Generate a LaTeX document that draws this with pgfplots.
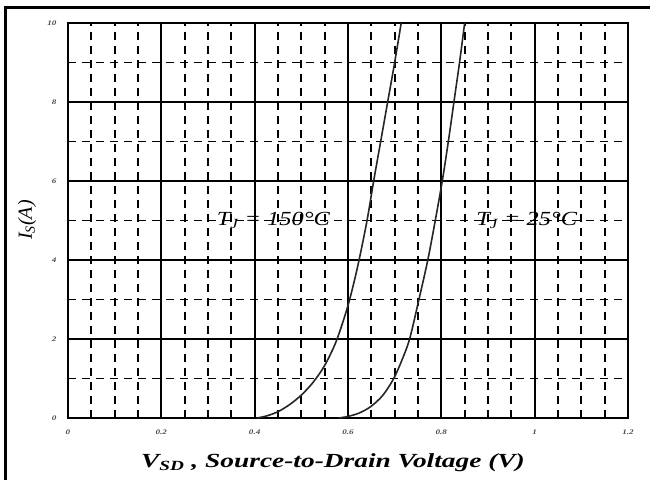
\documentclass[border=0pt]{standalone}
\usepackage{fontspec}
\setmainfont{Liberation Serif}
\usepackage{pgfplots}
\pgfplotsset{compat=1.18}
\begin{document}
\begin{tikzpicture}[x=1pt,y=1pt]
\begin{axis}[
  at={(68pt,61pt)}, anchor=south west,
  scale only axis, width=560pt, height=395pt,
  xmin=0, xmax=1.2, ymin=0, ymax=10,
  xtick={0,0.2,0.4,0.6,0.8,1,1.2}, ytick={0,2,4,6,8,10},
  minor x tick num=3, minor y tick num=1,
  grid=both,
  major grid style={black, line width=1.7pt},
  minor grid style={black, line width=1.7pt, dash pattern=on 8pt off 6pt},
  axis line style={black, line width=1.8pt},
  major tick length=0pt, minor tick length=0pt,
  /pgf/number format/assume math mode=true,
  tick label style={font=\fontsize{7}{7}\selectfont\bfseries\itshape, text=black!70},
  xticklabel={\scalebox{1.3}[1]{\pgfmathprintnumber{\tick}}},
  yticklabel={\scalebox{1.3}[1]{\pgfmathprintnumber{\tick}}},
  xticklabel style={yshift=-8pt},
  yticklabel style={xshift=-8pt},
  clip=false,
]
% T_J = 150 C
\addplot[black!85, line width=1.6pt, smooth] coordinates {
  (0.405,0) (0.425,0.05) (0.45,0.16) (0.475,0.34) (0.50,0.58) (0.525,0.9)
  (0.55,1.33) (0.575,1.95) (0.60,2.85) (0.62,3.8) (0.64,4.95) (0.655,6)
  (0.67,7) (0.685,8) (0.70,9) (0.714,10)};
% T_J = 25 C
\addplot[black!85, line width=1.6pt, smooth] coordinates {
  (0.58,0) (0.60,0.04) (0.625,0.13) (0.65,0.3) (0.675,0.58) (0.698,1.0)
  (0.715,1.45) (0.732,2) (0.752,3) (0.771,4) (0.787,5) (0.802,6) (0.815,7)
  (0.827,8) (0.839,9) (0.85,10)};
\node[font=\fontsize{20}{20}\selectfont\itshape] at (axis cs:0.44,5) {\scalebox{1.22}[1]{T\textsubscript{J} = 150°C}};
\node[font=\fontsize{20}{20}\selectfont\itshape] at (axis cs:0.983,5) {\scalebox{1.22}[1]{T\textsubscript{J} = 25°C}};
\end{axis}
\node[rotate=90, font=\fontsize{20}{20}\selectfont\itshape] at (27,259) {I\textsubscript{S}(A)};
\node[font=\fontsize{20}{20}\selectfont\bfseries\itshape] at (333,16) {\scalebox{1.37}[1]{V\textsubscript{SD} , Source-to-Drain Voltage (V)}};
\draw[line width=3pt] (5,-5) -- (5,471) -- (655,471);
\pgfresetboundingbox
\useasboundingbox (0,0) rectangle (650,479);
\end{tikzpicture}
\end{document}
